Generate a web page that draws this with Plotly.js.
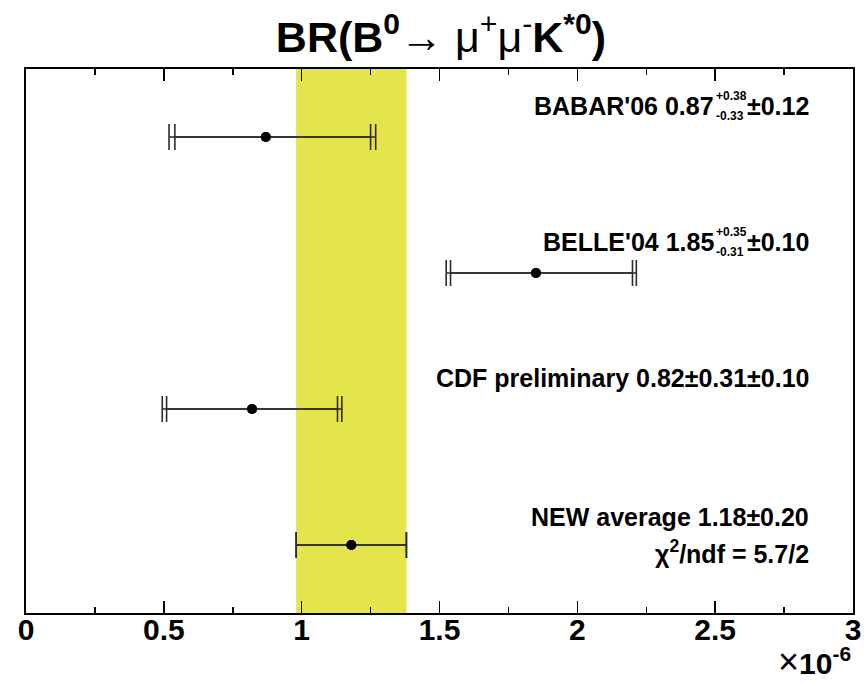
<!DOCTYPE html>
<html>
<head>
<meta charset="utf-8">
<script src="https://cdn.plot.ly/plotly-3.0.1.min.js"></script>
<style>html,body{margin:0;padding:0;background:#fff;}#chart{width:868px;height:684px;}</style>
</head>
<body>
<div id="chart"></div>
<script>
// ---- data (units of 1e-6) ----
const experiments = ["BABAR'06", "BELLE'04", "CDF preliminary", "NEW average"];
const values      = [0.87, 1.85, 0.82, 1.18];
const statPlus    = [0.38, 0.35, 0.31, 0.20];
const statMinus   = [0.33, 0.31, 0.31, 0.20];
const systErr     = [0.12, 0.10, 0.10, 0.00];
const rows        = [4, 3, 2, 1];
const chi2Text    = "χ<sup>2</sup>/ndf = 5.7/2";
const xTicks      = [0, 0.5, 1, 1.5, 2, 2.5, 3];

const totPlus  = statPlus.map((s, i) => Math.sqrt(s * s + systErr[i] * systErr[i]));
const totMinus = statMinus.map((s, i) => Math.sqrt(s * s + systErr[i] * systErr[i]));

const lineCol = '#2b2b2b';
const FONT = 'Liberation Sans, Arial, Helvetica, sans-serif';

const traces = [
  { type: 'scatter', mode: 'markers', x: values, y: rows,
    marker: { color: '#000', size: 10 },
    error_x: { type: 'data', symmetric: false, array: totPlus, arrayminus: totMinus,
               color: lineCol, thickness: 1.6, width: 13 },
    hoverinfo: 'skip', showlegend: false },
  { type: 'scatter', mode: 'markers', x: values, y: rows,
    marker: { color: '#000', size: 10 },
    error_x: { type: 'data', symmetric: false, array: statPlus, arrayminus: statMinus,
               color: lineCol, thickness: 1.6, width: 13 },
    hoverinfo: 'skip', showlegend: false }
];

const avgIdx = experiments.length - 1;
const shapes = [{
  type: 'rect', xref: 'x', yref: 'paper',
  x0: values[avgIdx] - statMinus[avgIdx], x1: values[avgIdx] + statPlus[avgIdx],
  y0: 0, y1: 1, fillcolor: '#E4E44C', line: { width: 0 }, layer: 'below'
}];

const fmt = v => v.toFixed(2);
const annotations = [];
const textX = 2.848;   // right edge of labels
const stackGap = 97;   // px from right edge to the start of the +/- stack
const fMain = { family: FONT, size: 25, color: '#000', weight: 'bold' };
const fSmall = { family: FONT, size: 12, color: '#000', weight: 'bold' };

experiments.forEach((name, i) => {
  const asym = statPlus[i] !== statMinus[i];
  const yS = 31;
  if (asym) {
    annotations.push({ xref: 'x', yref: 'y', x: textX, y: rows[i], xanchor: 'right', yanchor: 'middle',
      xshift: -stackGap + 2, yshift: yS, showarrow: false, font: fMain,
      text: name + ' ' + fmt(values[i]) });
    annotations.push({ xref: 'x', yref: 'y', x: textX, y: rows[i], xanchor: 'left', yanchor: 'middle',
      xshift: -stackGap, yshift: yS + 10, showarrow: false, font: fSmall,
      text: '+' + fmt(statPlus[i]) });
    annotations.push({ xref: 'x', yref: 'y', x: textX, y: rows[i], xanchor: 'left', yanchor: 'middle',
      xshift: -stackGap, yshift: yS - 10, showarrow: false, font: fSmall,
      text: '-' + fmt(statMinus[i]) });
    annotations.push({ xref: 'x', yref: 'y', x: textX, y: rows[i], xanchor: 'right', yanchor: 'middle',
      yshift: yS, showarrow: false, font: fMain,
      text: '±' + fmt(systErr[i]) });
  } else {
    let t = name + ' ' + fmt(values[i]) + '±' + fmt(statPlus[i]);
    if (systErr[i] > 0) t += '±' + fmt(systErr[i]);
    annotations.push({ xref: 'x', yref: 'y', x: textX, y: rows[i], xanchor: 'right', yanchor: 'middle',
      yshift: (i === avgIdx ? 28 : yS), showarrow: false, font: fMain, text: t });
  }
});
annotations.push({ xref: 'x', yref: 'y', x: textX, y: rows[avgIdx], xanchor: 'right', yanchor: 'middle',
  yshift: -7, showarrow: false, font: fMain, text: chi2Text });
annotations.push({ xref: 'paper', yref: 'paper', x: 1, y: -0.09, xanchor: 'right', yanchor: 'middle',
  showarrow: false, font: { family: FONT, size: 30, color: '#000' },
  text: '<span style="font-size:36px">×</span><b>10<sup>-6</sup></b>' });

const layout = {
  width: 868, height: 684,
  margin: { l: 26, r: 15, t: 69, b: 71 },
  paper_bgcolor: '#fff', plot_bgcolor: '#fff',
  title: { text: '<b>BR(B<sup>0</sup></b>→ μ<sup>+</sup>μ<sup>-</sup><b>K<sup>*0</sup>)</b>',
           x: 0.508, xanchor: 'center', y: 0.968, yanchor: 'top', yref: 'container',
           font: { family: FONT, size: 43, color: '#000' } },
  xaxis: { range: [0, 3], tickvals: xTicks, ticks: 'inside', ticklen: 12, tickwidth: 1.5,
           tickcolor: '#000', showline: true, linecolor: '#000', linewidth: 2, mirror: 'allticks',
           showgrid: false, zeroline: false, ticklabelstandoff: -11,
           tickfont: { family: FONT, size: 30, color: '#000', weight: 'bold' },
           minor: { dtick: 0.25, ticks: 'inside', ticklen: 6, tickcolor: '#000', tickwidth: 1.5, showgrid: false } },
  yaxis: { range: [0.5, 4.5], showticklabels: false, ticks: '', showgrid: false, zeroline: false,
           showline: true, linecolor: '#000', linewidth: 2, mirror: true },
  shapes: shapes,
  annotations: annotations
};

Plotly.newPlot('chart', traces, layout, { displayModeBar: false, staticPlot: true });
</script>
</body>
</html>
